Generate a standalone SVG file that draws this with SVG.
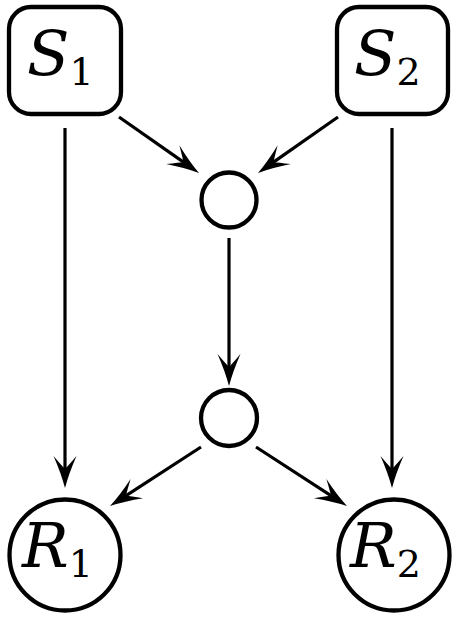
<svg xmlns="http://www.w3.org/2000/svg" width="458" height="620" viewBox="0 0 458 620">
<style>
.node{fill:#fff;stroke:#000;stroke-width:4.3}
.lbl{font-family:'DejaVu Serif',serif;font-style:italic;font-size:62px;fill:#000}
.sub{font-style:normal;font-size:38px}
.edge{stroke:#000;stroke-width:3.2;fill:none;marker-end:url(#arr)}
</style>
<defs>
<marker id="arr" viewBox="-34 -13 36 26" markerWidth="36" markerHeight="26" refX="-15" refY="0" markerUnits="userSpaceOnUse" orient="auto">
<path d="M0,0 Q-15,-4 -32,-11.5 Q-22,-3 -19,0 Q-22,3 -32,11.5 Q-15,4 0,0 Z" fill="#000"/>
</marker>
</defs>
<rect width="458" height="620" fill="#fff"/>
<g id="connectors">
<line class="edge" x1="65" y1="128" x2="65" y2="473"/>
<line class="edge" x1="392" y1="128" x2="392" y2="473"/>
<line class="edge" x1="229" y1="238" x2="229" y2="371"/>
<line class="edge" x1="119" y1="117" x2="186.7" y2="164.4"/>
<line class="edge" x1="338" y1="117" x2="270.3" y2="164.4"/>
<line class="edge" x1="201" y1="447" x2="122.6" y2="497.8"/>
<line class="edge" x1="256" y1="447" x2="334.4" y2="497.8"/>
</g>
<g id="S1">
<rect class="node" x="9" y="7" width="112" height="107" rx="22"/>
<text class="lbl" x="27" y="75">S<tspan class="sub" dy="10">1</tspan></text>
</g>
<g id="S2">
<rect class="node" x="337" y="7" width="111" height="107" rx="22"/>
<text class="lbl" x="354" y="75">S<tspan class="sub" dy="10">2</tspan></text>
</g>
<g id="M1">
<circle class="node" cx="229" cy="200" r="27.5"/>
</g>
<g id="M2">
<circle class="node" cx="229" cy="418" r="28"/>
</g>
<g id="R1">
<circle class="node" cx="65" cy="555" r="55.5"/>
<text class="lbl" x="22" y="567">R<tspan class="sub" dy="10">1</tspan></text>
</g>
<g id="R2">
<circle class="node" cx="394" cy="555" r="55.5"/>
<text class="lbl" x="350" y="567">R<tspan class="sub" dy="10">2</tspan></text>
</g>
</svg>
